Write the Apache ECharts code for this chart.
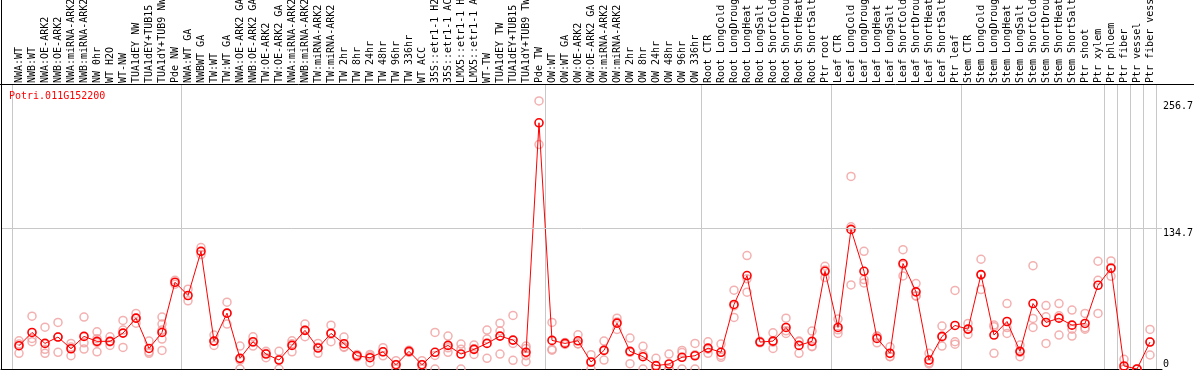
<!DOCTYPE html>
<html><head><meta charset="utf-8">
<script src="https://cdn.jsdelivr.net/npm/echarts@6/dist/echarts.min.js"></script>
<style>html,body{margin:0;padding:0;background:#fff}#c{width:1194px;height:370px}</style>
</head><body><div id="c"></div><script>
const chartTitle = 'Potri.011G152200';
const categories = [
 'NWA:WT','NWB:WT','NWA:OE-ARK2','NWB:OE-ARK2','NWA:miRNA-ARK2','NWB:miRNA-ARK2','NW 0hr','WT H2O','WT-NW','TUA1dEY NW','TUA1dEY+TUB15 NW','TUA1dY+TUB9 NW','Pde NW',
 'NWA:WT GA','NWBWT GA','TW:WT','TW:WT GA','NWA:OE-ARK2 GA','NWB:OE-ARK2 GA','TW:OE-ARK2','TW:OE-ARK2 GA','NWA:miRNA-ARK2','NWB:miRNA-ARK2','TW:miRNA-ARK2','TW:miRNA-ARK2',
 'TW 2hr','TW 8hr','TW 24hr','TW 48hr','TW 96hr','TW 336hr','WT ACC','35S::etr1-1 H2O','35S::etr1-1 ACC','LMX5::etr1-1 H2O','LMX5::etr1-1 ACC','WT-TW','TUA1dEY TW','TUA1dEY+TUB15 TW','TUA1dY+TUB9 TW','Pde TW',
 'OW:WT','OW:WT GA','OW:OE-ARK2','OW:OE-ARK2 GA','OW:miRNA-ARK2','OW:miRNA-ARK2','OW 2hr','OW 8hr','OW 24hr','OW 48hr','OW 96hr','OW 336hr',
 'Root CTR','Root LongCold','Root LongDrought','Root LongHeat','Root LongSalt','Root ShortCold','Root ShortDrought','Root ShortHeat','Root ShortSalt','Ptr root',
 'Leaf CTR','Leaf LongCold','Leaf LongDrought','Leaf LongHeat','Leaf LongSalt','Leaf ShortCold','Leaf ShortDrought','Leaf ShortHeat','Leaf ShortSalt','Ptr leaf',
 'Stem CTR','Stem LongCold','Stem LongDrought','Stem LongHeat','Stem LongSalt','Stem ShortCold','Stem ShortDrought','Stem ShortHeat','Stem ShortSalt','Ptr shoot','Ptr xylem',
 'Ptr phloem','Ptr fiber','Ptr vessel','Ptr fiber vessel'
];
const groupSizes = [13, 28, 12, 10, 10, 11, 1, 1, 1, 1];
const meanValues = [
 22.3,35.0,24.5,30.6,19.4,31.2,26.5,26.5,34.4,48.7,19.7,35.0,83.1,
 70.4,112.7,26.7,53.5,10.2,26.1,14.3,8.6,22.6,37.0,20.1,34.1,
 24.2,12.7,10.8,16.5,4.1,16.9,4.1,16.0,22.6,14.3,18.8,24.5,31.5,27.7,16.0,235.8,
 27.4,24.5,27.0,6.7,17.8,43.9,16.9,11.8,3.2,4.8,11.2,12.7,
 20.0,16.0,61.8,89.5,25.8,26.7,39.8,22.6,26.5,93.6,
 39.8,133.7,93.6,29.3,15.0,101.0,73.9,8.6,31.2,41.7,
 38.2,90.4,32.5,45.5,16.9,62.7,44.6,48.7,42.0,43.6,80.2,
 96.5,2.9,0,25.8
];
const replicateValues = [
 [27.0,23.9,15.0],[50.6,29.3,26.1],[40.1,18.8,15.0],[44.6,30.6,16.0],[24.5,21.0,12.7],[49.7,25.1,19.1],[35.6,29.0,25.5,16.5],[30.9,26.0,22.6],[46.5,37.3,20.7],[53.2,48.7,43.9],[26.7,16.5,15.0],[49.7,43.0,37.3,28.7,17.8],[85.0,81.2],
 [76.4,65.3],[116.3,109.6],[32.5,26.7,22.6],[64.0,53.5,43.0],[22.0,8.6,0],[30.9,25.4,22.0],[16.9,15.2,10.8],[16.9,9.0,0],[27.0,24.3,16.5],[43.0,37.0,30.9],[24.5,20.8,15.0],[42.0,34.2,26.1],
 [30.6,21.3,20.7],[14.0,12.7,11.4],[14.0,12.4,6.0],[20.4,16.5,12.6],[8.0,4.3,0],[18.0,15.8],[8.0,4.3,0],[35.0,13.0,0],[31.5,20.3,16.0],[23.9,19.0,0],[22.9,19.5,14.0],[37.3,28.7,10.2],[43.9,36.3,14.3],[51.3,24.5,8.3],[22.0,19.7,12.7,7.0],[256.7,214.9],
 [44.6,18.8,18.0],[25.5,23.5],[32.8,24.2,24.0],[13.7,6.4,0],[26.7,18.1,8.6],[48.7,45.1,37.9],[29.6,16.0,5.1],[21.7,13.7,0],[10.2,0,0],[14.3,0,0],[17.8,15.8,0],[24.5,13.6,0],
 [26.1,19.0,15.0],[23.9,13.0,11.2],[75.5,60.5,49.4],[108.6,86.4,73.6],[26.5,25.1],[34.7,25.7,19.7],[48.7,36.6,34.1],[26.0,26.8,15.0],[36.3,21.9,21.3],[98.4,94.8,87.6],
 [47.8,37.5,34.1],[184.4,136.2,80.5],[112.7,85.7,82.4],[31.5,31.3,25.1],[21.3,11.9,11.8],[114.3,99.6,89.1],[81.8,70.2,69.7],[15.0,6.0,4.8],[41.1,30.5,22.0],[75.2,26.1,23.8],
 [43.6,37.9,33.1],[105.1,90.0,76.1],[42.1,40.4,15.0],[62.7,39.7,34.1],[22.9,16.0,11.8],[99.0,48.4,39.8],[60.8,50.0,24.5],[62.7,50.9,32.5],[56.4,38.1,31.5],[53.2,39.5,38.1],[103.2,85.0,53.2],
 [103.5,97.2,88.8],[9.3,0,0],[0,0],[37.9,26.0,13.4]
];
const yTickUpper = [134.7, 256.7];
const yTickZero = [0];
const gridLineValue = 134.7;
const yMax = 272;

const groupStarts = [];
groupSizes.reduce((acc, n) => { groupStarts.push(acc); return acc + n; }, 0);
const repPoints = [];
replicateValues.forEach((arr, i) => arr.forEach(v => repPoints.push([i, v])));

const MONO = '"DejaVu Sans Mono", "Liberation Mono", monospace';
const GRAY = '#c8c8c8';
const chart = echarts.init(document.getElementById('c'), null, {renderer: 'canvas'});
chart.setOption({
  animation: false,
  backgroundColor: '#ffffff',
  title: {text: chartTitle, left: 9, top: 91, padding: 0,
    textStyle: {color: '#ff0000', fontFamily: MONO, fontSize: 10, fontWeight: 'normal'}},
  grid: [
    {left: 12.5, top: 85, width: 1144, height: 284, containLabel: false, outerBoundsMode: 'none'},
    {left: 1, top: 85, width: 1161, height: 284, containLabel: false, outerBoundsMode: 'none'}
  ],
  xAxis: [
    {type: 'category', gridIndex: 0, position: 'top', data: categories, boundaryGap: true,
     axisLine: {show: false},
     axisTick: {show: true, length: 85, interval: (i) => groupStarts.includes(i), lineStyle: {color: GRAY, width: 1}},
     splitLine: {show: true, interval: (i) => groupStarts.includes(i), lineStyle: {color: GRAY, width: 1}},
     axisLabel: {interval: 0, rotate: 90, margin: 2, color: '#000', fontFamily: MONO, fontSize: 10, hideOverlap: false}},
    {type: 'value', gridIndex: 1, min: 0, max: 1, position: 'bottom',
     axisLine: {show: true, lineStyle: {color: '#000', width: 1}},
     axisTick: {show: false}, axisLabel: {show: false}, splitLine: {show: false}}
  ],
  yAxis: [
    {type: 'value', gridIndex: 0, min: 0, max: yMax, show: false},
    {type: 'value', gridIndex: 1, min: 0, max: yMax, position: 'right',
     axisLine: {show: false}, axisTick: {show: false}, splitLine: {show: false},
     axisLabel: {customValues: yTickUpper, verticalAlign: 'top', margin: 1, color: '#000', fontFamily: MONO, fontSize: 10,
       formatter: (v) => String(v)}},
    {type: 'value', gridIndex: 1, min: 0, max: yMax, position: 'right',
     axisLine: {show: false}, axisTick: {show: false}, splitLine: {show: false},
     axisLabel: {customValues: yTickZero, verticalAlign: 'bottom', margin: 1, color: '#000', fontFamily: MONO, fontSize: 10,
       formatter: (v) => String(v)}}
  ],
  graphic: [
    {type: 'line', z: 100, shape: {x1: 0, y1: 84.5, x2: 1194, y2: 84.5}, style: {stroke: '#000', lineWidth: 1}},
    {type: 'line', z: 100, shape: {x1: 1.5, y1: 0, x2: 1.5, y2: 370}, style: {stroke: '#000', lineWidth: 1}}
  ],
  series: [
    {type: 'line', xAxisIndex: 1, yAxisIndex: 1, data: [], silent: true,
     markLine: {silent: true, symbol: 'none', label: {show: false},
       lineStyle: {color: GRAY, type: 'solid', width: 1}, data: [{yAxis: gridLineValue}]}},
    {type: 'scatter', xAxisIndex: 0, yAxisIndex: 0, data: repPoints, symbol: 'circle', symbolSize: 8,
     itemStyle: {color: 'rgba(0,0,0,0)', borderColor: '#f09c9c', borderWidth: 1.5}, silent: true, clip: false},
    {type: 'line', xAxisIndex: 0, yAxisIndex: 0, data: meanValues, symbol: 'circle', symbolSize: 8, showAllSymbol: true,
     lineStyle: {color: '#ff0000', width: 1},
     itemStyle: {color: 'rgba(255,0,0,0)', borderColor: '#ff0000', borderWidth: 1.6}, silent: true, clip: false, z: 3}
  ]
});
</script></body></html>
